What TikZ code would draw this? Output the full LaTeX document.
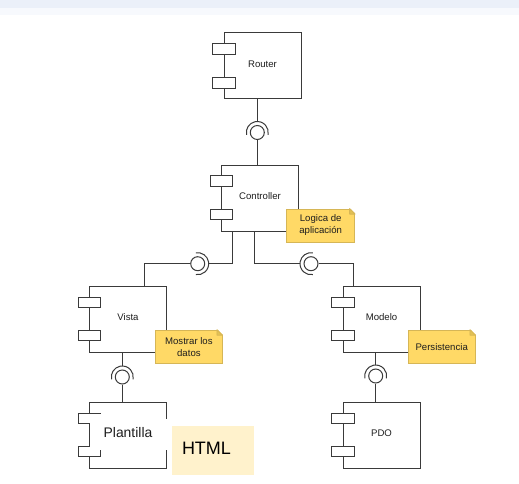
\documentclass[tikz,border=0pt]{standalone}
\usepackage{fontspec}
\setmainfont{Liberation Sans}
\definecolor{linec}{HTML}{3A3A3A}
\definecolor{textc}{HTML}{1E1E1E}
\definecolor{notefill}{HTML}{FFD966}
\definecolor{noteline}{HTML}{D6B656}
\definecolor{foldc}{HTML}{E3C153}
\definecolor{htmlfill}{HTML}{FFF2CC}
\definecolor{topA}{HTML}{EBF0F9}
\definecolor{topB}{HTML}{F7F9FD}
\begin{document}
\begin{tikzpicture}[x=1pt,y=-1pt,
  comp/.style={draw=linec, fill=white, line width=1pt, minimum width=77pt, minimum height=66pt,
    inner sep=0pt, text depth=4pt, font=\fontsize{9.6}{11}\selectfont, text=textc},
  port/.style={draw=linec, fill=white, line width=1pt, minimum width=22.4pt, minimum height=10.7pt, inner sep=0pt},
  ball/.style={draw=linec, line width=1pt, circle, minimum size=14pt, inner sep=0pt},
  wire/.style={draw=linec, line width=1pt},
  note/.style={fill=notefill, draw=noteline, line width=0.8pt, inner sep=0pt, align=center,
    font=\fontsize{9.6}{12}\selectfont, text=textc},
]
\useasboundingbox (0,0) rectangle (519,484);
\fill[white] (0,0) rectangle (519,484);
\fill[topA] (0,0) rectangle (519,8);
\fill[topB] (0,8) rectangle (519,15);

% components
\node[comp] (router) at (262.5,66) {Router};
\node[port] (router-p1) at (224,49.3) {};
\node[port] (router-p2) at (224,82.7) {};

\node[comp] (ctrl) at (260,198) {Controller};
\node[port] (ctrl-p1) at (221.5,181.3) {};
\node[port] (ctrl-p2) at (221.5,214.5) {};

\node[comp] (vista) at (128,319) {Vista};
\node[port] (vista-p1) at (89.5,302.5) {};
\node[port] (vista-p2) at (89.5,335.5) {};

\node[comp] (modelo) at (381.5,319) {Modelo};
\node[port] (modelo-p1) at (343,302.5) {};
\node[port] (modelo-p2) at (343,335.5) {};

\node[comp] (pdo) at (381.5,435) {PDO};
\node[port] (pdo-p1) at (343,418.5) {};
\node[port] (pdo-p2) at (343,451.5) {};

% Plantilla (partially drawn frame)
\node[minimum width=77pt, minimum height=66pt, inner sep=0pt, text=textc,
  font=\fontsize{13.9}{16}\selectfont] (plantilla) at (128,435) {\raisebox{5pt}{Plantilla}};
\begin{scope}[wire]
\draw (89.5,413) -- (89.5,402) -- (166.5,402) -- (166.5,419);
\draw (166.5,450) -- (166.5,468) -- (89.5,468) -- (89.5,456.9);
\draw (89.5,423.7) -- (89.5,446.1);
\draw (100.7,413) -- (78.3,413) -- (78.3,423.7) -- (89.5,423.7);
\draw (89.5,446.1) -- (78.3,446.1) -- (78.3,456.9) -- (100.7,456.9) -- (100.7,450);
\end{scope}

% HTML box
\node[fill=htmlfill, minimum width=82pt, minimum height=49pt, inner xsep=10pt, inner ysep=0pt,
  text width=62pt, align=left, text=black, text depth=5pt,
  font=\fontsize{18}{20}\selectfont] (html) at (213,450.5) {HTML};

% interfaces
\node[ball] (b1) at (257.3,132.5) {};
\draw[wire] ([shift={(192:11pt)}]b1.center) arc[start angle=192, end angle=-12, radius=11pt];
\draw[wire] (b1 |- router.south) -- ([shift={(90:11pt)}]b1.center);
\draw[wire] (b1.south) -- (b1 |- ctrl.north);

\coordinate (ctrlL) at ([xshift=-27.7pt]ctrl.south);
\coordinate (ctrlR) at ([xshift=-5.7pt]ctrl.south);

\node[ball] (b2) at (197.7,263.7) {};
\draw[wire] ([shift={(100:11pt)}]b2.center) arc[start angle=100, end angle=-100, radius=11pt];
\draw[wire] (ctrlL) |- ([shift={(0:11pt)}]b2.center);
\draw[wire] (b2.west) -| ([xshift=16.3pt]vista.north);

\node[ball] (b3) at (311,263.7) {};
\draw[wire] ([shift={(80:11pt)}]b3.center) arc[start angle=80, end angle=280, radius=11pt];
\draw[wire] (ctrlR) |- ([shift={(180:11pt)}]b3.center);
\draw[wire] (b3.east) -| ([xshift=-27.8pt]modelo.north);

\node[ball] (b4) at (122.3,377) {};
\draw[wire] ([shift={(192:11pt)}]b4.center) arc[start angle=192, end angle=-12, radius=11pt];
\draw[wire] (b4 |- vista.south) -- ([shift={(90:11pt)}]b4.center);
\draw[wire] (b4.south) -- (b4 |- plantilla.north);

\node[ball] (b5) at (375.7,376) {};
\draw[wire] ([shift={(192:11pt)}]b5.center) arc[start angle=192, end angle=-12, radius=11pt];
\draw[wire] (b5 |- modelo.south) -- ([shift={(90:11pt)}]b5.center);
\draw[wire] (b5.south) -- (b5 |- pdo.north);

% notes
\node[note, minimum width=68pt, minimum height=33pt] (n1) at (320.7,225.5) {Logica de\\aplicación};
\node[note, minimum width=66.3pt, minimum height=33.3pt] (n2) at (188.9,346.7) {Mostrar los\\datos};
\node[note, minimum width=66.7pt, minimum height=33.3pt] (n3) at (441.7,346.7) {Persistencia};
\foreach \n in {n1,n2,n3}{
  \fill[white] ([xshift=-5.5pt,yshift=0.8pt]\n.north east) -- ([xshift=0.8pt,yshift=0.8pt]\n.north east)
    -- ([xshift=0.8pt,yshift=-5.5pt]\n.north east) -- cycle;
  \filldraw[fill=foldc, draw=noteline, line width=0.8pt, line join=round]
    ([xshift=-5.5pt]\n.north east) -- ([xshift=-5.5pt,yshift=-5.5pt]\n.north east)
    -- ([yshift=-5.5pt]\n.north east) -- cycle;
}
\end{tikzpicture}
\end{document}
